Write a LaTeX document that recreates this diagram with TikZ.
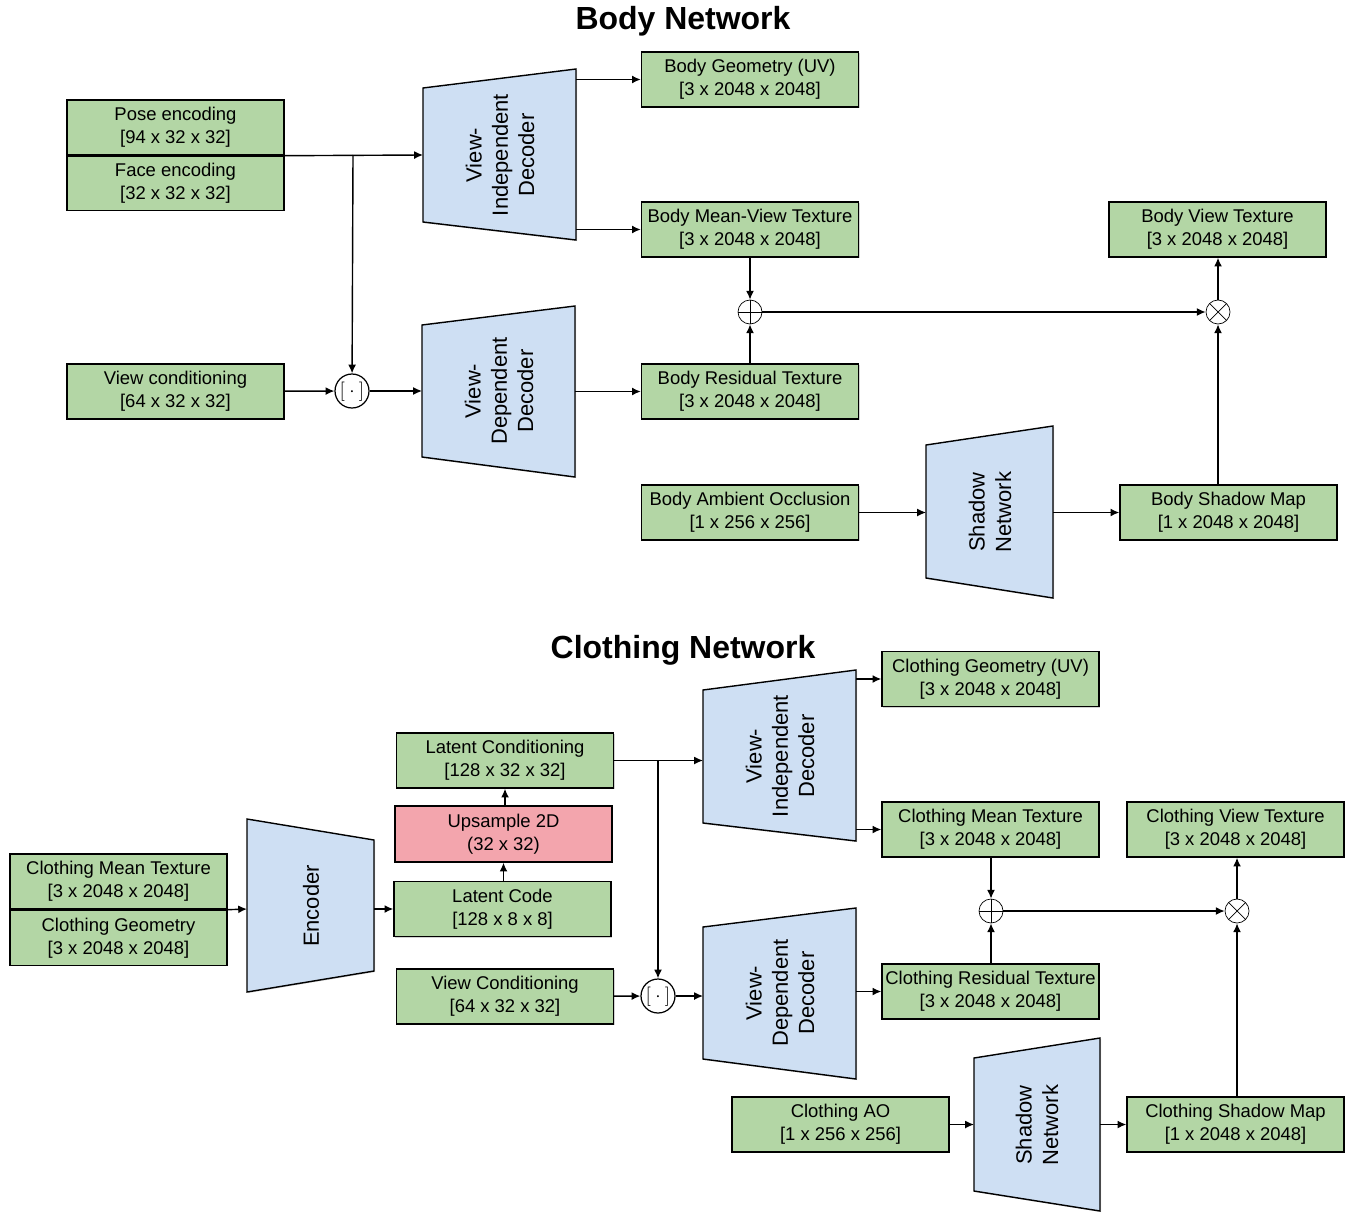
\documentclass[tikz,border=0pt]{standalone}
\usepackage{fontspec}
\setmainfont{Liberation Sans}
\usetikzlibrary{positioning,arrows.meta,shadows}

\definecolor{featgreen}{HTML}{B3D6A5}
\definecolor{netblue}{HTML}{CEDFF3}
\definecolor{opred}{HTML}{F3A5AD}

\tikzset{
  feat/.style={draw, fill=featgreen, line width=0.8pt, minimum width=4.34cm,
    minimum height=1.1cm, inner sep=1pt, align=center,
    font=\fontsize{10.5}{13}\selectfont,
    drop shadow={shadow xshift=0.6pt, shadow yshift=-0.6pt, opacity=0.35}},
  netshape/.style={draw, fill=netblue, line width=0.8pt,
    drop shadow={shadow xshift=0.6pt, shadow yshift=-0.6pt, opacity=0.35}},
  netlabel/.style={rotate=90, align=center, font=\fontsize{12.5}{15}\selectfont},
  concat/.style={draw, circle, fill=white, line width=0.7pt, minimum size=0.68cm, inner sep=0pt,
    font=\fontsize{11}{13}\selectfont},
  oplus/.style={draw, circle, fill=white, minimum size=0.48cm, inner sep=0pt,
    path picture={\draw (path picture bounding box.north) -- (path picture bounding box.south)
      (path picture bounding box.west) -- (path picture bounding box.east);}},
  otimes/.style={draw, circle, fill=white, minimum size=0.48cm, inner sep=0pt,
    path picture={\draw ([shift={(-0.17cm,-0.17cm)}]path picture bounding box.center) -- ([shift={(0.17cm,0.17cm)}]path picture bounding box.center)
      ([shift={(-0.17cm,0.17cm)}]path picture bounding box.center) -- ([shift={(0.17cm,-0.17cm)}]path picture bounding box.center);}},
  title/.style={font=\fontsize{18.2}{21}\selectfont\bfseries},
  flow/.style={-{Latex[length=5pt,width=4.5pt]}, line width=0.8pt},
}

\begin{document}
\begin{tikzpicture}[x=0.02cm, y=-0.02cm]
\useasboundingbox (0,0) rectangle (1354,1213);

% ---------------- Body network ----------------
\node[title] (ttlbody) at (683,21) {Body Network};

% inputs
\node[feat] (pose) at (175.5,127.5) {Pose encoding\\{}[94 x 32 x 32]};
\node[feat, minimum height=1.08cm, below=0pt of pose] (face) {Face encoding\\{}[32 x 32 x 32]};
\node[feat] (viewc) at (175.5,391.5) {View conditioning\\{}[64 x 32 x 32]};
\node[concat] (cat1) at (352,391) {$\big[\cdot\big]$};

% decoders
\draw[netshape] (423,88) -- (576,69) -- (576,240) -- (423,222) -- cycle;
\node[netlabel] (vid) at (500,155) {View-\\Independent\\Decoder};
\draw[netshape] (422,325) -- (575,306) -- (575,477) -- (422,457) -- cycle;
\node[netlabel] (vdd) at (499,391) {View-\\Dependent\\Decoder};
\coordinate (vidin) at (423,155);
\coordinate (vidtop) at (576,79.5);
\coordinate (vidbot) at (576,229.5);
\coordinate (vddin) at (422,391);
\coordinate (vddout) at (575,391.5);

% outputs
\node[feat] (bgeo) at (750,79.5) {Body Geometry (UV)\\{}[3 x 2048 x 2048]};
\node[feat] (bmean) at (750,229.5) {Body Mean-View Texture\\{}[3 x 2048 x 2048]};
\node[feat] (bres) at (750,391.5) {Body Residual Texture\\{}[3 x 2048 x 2048]};
\node[feat] (bview) at (1217.5,229.5) {Body View Texture\\{}[3 x 2048 x 2048]};
\node[oplus] (plus1) at (750,312) {};
\node[otimes] (times1) at (1218,312) {};

% shadow branch
\node[feat] (bao) at (750,512.5) {Body Ambient Occlusion\\{}[1 x 256 x 256]};
\draw[netshape] (926,445) -- (1053,426) -- (1053,598) -- (926,578) -- cycle;
\node[netlabel] (bsh) at (990,512) {Shadow\\Network};
\coordinate (bshin) at (926,512.5);
\coordinate (bshout) at (1053,512.5);
\node[feat] (bsmap) at (1228.5,512.5) {Body Shadow Map\\{}[1 x 2048 x 2048]};

% connections
\coordinate (bsplit) at (353,155);
\draw[flow] (pose.south east) -- (vidin);
\draw[flow] (bsplit) -- (cat1);
\draw[flow] (viewc) -- (cat1);
\draw[flow] (cat1) -- (vddin);
\draw[flow] (vidtop) -- (bgeo);
\draw[flow] (vidbot) -- (bmean);
\draw[flow] (vddout) -- (bres);
\draw[flow] (bmean) -- (plus1);
\draw[flow] (bres) -- (plus1);
\draw[flow] (plus1) -- (times1);
\draw[flow] (times1) -- (bview.south -| times1);
\draw[flow] (bao) -- (bshin);
\draw[flow] (bshout) -- (bsmap);
\draw[flow] (bsmap.north -| times1) -- (times1);

% ---------------- Clothing network ----------------
\node[title] (ttlcloth) at (683,650) {Clothing Network};

% inputs and encoder
\node[feat] (cmean) at (118.5,881.5) {Clothing Mean Texture\\{}[3 x 2048 x 2048]};
\node[feat, below=0pt of cmean] (cgeo) {Clothing Geometry\\{}[3 x 2048 x 2048]};
\draw[netshape] (247,819) -- (374,840) -- (374,971) -- (247,992) -- cycle;
\node[netlabel] (enc) at (311,906) {Encoder};
\coordinate (encin) at (247,909);
\coordinate (encout) at (374,909);

% latent path
\node[feat] (lcode) at (502.5,909) {Latent Code\\{}[128 x 8 x 8]};
\node[feat, fill=opred, minimum height=1.12cm] (ups) at (503.5,834) {Upsample 2D\\(32 x 32)};
\node[feat] (lcond) at (505,760.5) {Latent Conditioning\\{}[128 x 32 x 32]};
\node[feat] (cviewc) at (505,996.5) {View Conditioning\\{}[64 x 32 x 32]};
\node[concat] (cat2) at (658,996) {$\big[\cdot\big]$};

% decoders
\draw[netshape] (703,690) -- (856,670) -- (856,841) -- (703,823) -- cycle;
\node[netlabel] (cvid) at (780,756) {View-\\Independent\\Decoder};
\draw[netshape] (703,927) -- (856,908) -- (856,1079) -- (703,1059) -- cycle;
\node[netlabel] (cvdd) at (780,993) {View-\\Dependent\\Decoder};
\coordinate (cvidin) at (703,760.5);
\coordinate (cvidtop) at (856,679);
\coordinate (cvidbot) at (856,829.5);
\coordinate (cvddin) at (703,996);
\coordinate (cvddout) at (856,991.5);

% outputs
\node[feat] (cguv) at (990.5,679) {Clothing Geometry (UV)\\{}[3 x 2048 x 2048]};
\node[feat] (cmtex) at (990.5,829.5) {Clothing Mean Texture\\{}[3 x 2048 x 2048]};
\node[feat] (cres) at (990.5,991.5) {Clothing Residual Texture\\{}[3 x 2048 x 2048]};
\node[feat] (cview) at (1235.5,829.5) {Clothing View Texture\\{}[3 x 2048 x 2048]};
\node[oplus] (plus2) at (991,911) {};
\node[otimes] (times2) at (1237,911) {};

% shadow branch
\node[feat] (cao) at (840.5,1124.5) {Clothing AO\\{}[1 x 256 x 256]};
\draw[netshape] (974,1058) -- (1100,1038) -- (1100,1211) -- (974,1191) -- cycle;
\node[netlabel] (csh) at (1037,1125) {Shadow\\Network};
\coordinate (cshin) at (974,1124.5);
\coordinate (cshout) at (1100,1124.5);
\node[feat] (csmap) at (1235.5,1124.5) {Clothing Shadow Map\\{}[1 x 2048 x 2048]};

% connections
\coordinate (csplit) at (658,760.5);
\draw[flow] (cmean.south east) -- (encin);
\draw[flow] (encout) -- (lcode);
\draw[flow] (lcode.north -| ups) -- (ups);
\draw[flow] (ups.north -| lcond) -- (lcond);
\draw[flow] (lcond) -- (cvidin);
\draw[flow] (csplit) -- (cat2);
\draw[flow] (cviewc) -- (cat2);
\draw[flow] (cat2) -- (cvddin);
\draw[flow] (cvidtop) -- (cguv);
\draw[flow] (cvidbot) -- (cmtex);
\draw[flow] (cvddout) -- (cres);
\draw[flow] (cmtex.south -| plus2) -- (plus2);
\draw[flow] (cres.north -| plus2) -- (plus2);
\draw[flow] (plus2) -- (times2);
\draw[flow] (times2) -- (cview.south -| times2);
\draw[flow] (cao) -- (cshin);
\draw[flow] (cshout) -- (csmap);
\draw[flow] (csmap.north -| times2) -- (times2);
\end{tikzpicture}
\end{document}
